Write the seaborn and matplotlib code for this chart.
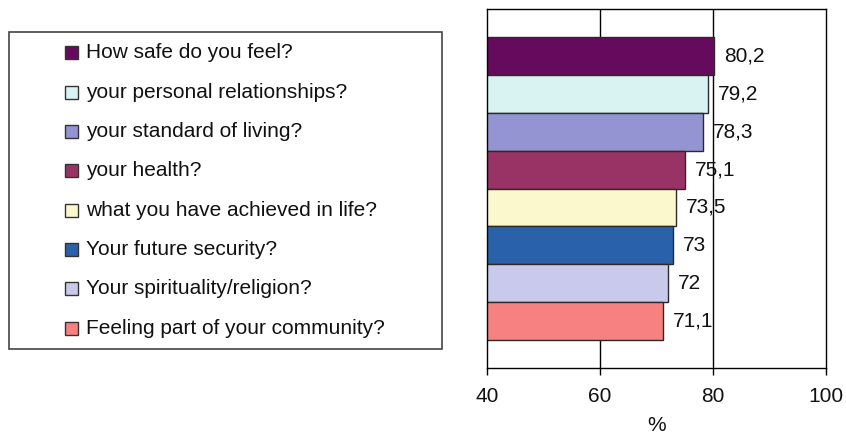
import matplotlib
matplotlib.use("Agg")
import matplotlib.pyplot as plt
from matplotlib.patches import Rectangle
import seaborn as sns
import pandas as pd

categories = [
    "How safe do you feel?",
    "your personal relationships?",
    "your standard of living?",
    "your health?",
    "what you have achieved in life?",
    "Your future security?",
    "Your spirituality/religion?",
    "Feeling part of your community?",
]
values = [80.2, 79.2, 78.3, 75.1, 73.5, 73.0, 72.0, 71.1]
colors = ["#660A5E", "#D9F2F2", "#9494D2", "#993366",
          "#FAF8CC", "#2962AB", "#C9C9EC", "#F78181"]
x_ticks = [40, 60, 80, 100]

sns.set_theme(style="white")
plt.rcParams["font.family"] = ["Liberation Sans", "DejaVu Sans"]
plt.rcParams["text.color"] = "#111111"
plt.rcParams["xtick.color"] = "black"
plt.rcParams["xtick.labelcolor"] = "#111111"
plt.rcParams["axes.labelcolor"] = "#111111"

W, H = 846, 436
fig = plt.figure(figsize=(W / 100, H / 100), dpi=100)
ax = fig.add_axes([487 / W, 1 - 368 / H, (826 - 487) / W, (368 - 9) / H])

df = pd.DataFrame({"q": categories, "pct": values})
sns.barplot(data=df, x="pct", y="q", hue="q", palette=colors, legend=False,
            saturation=1, width=1.0, edgecolor="#2a2a2a", linewidth=1.0,
            ax=ax, zorder=2)

ax.set_xlim(40, 100)
ax.set_ylim(len(categories) - 0.5 + 0.74, -0.5 - 0.74)
ax.set_xticks(x_ticks)
ax.set_xticklabels([str(t) for t in x_ticks], fontsize=15)
ax.set_yticks([])
ax.set_ylabel("")
ax.set_xlabel("%", fontsize=15, labelpad=7)
ax.tick_params(axis="x", direction="out", length=5, width=1, color="black",
               bottom=True, pad=9)
for s in ax.spines.values():
    s.set_color("black")
    s.set_linewidth(1.0)
for g in (60, 80):
    ax.axvline(g, color="black", linewidth=1.0, zorder=1)

def fmt(v):
    s = f"{v:.1f}"
    if s.endswith(".0"):
        s = s[:-2]
    return s.replace(".", ",")

for cont in ax.containers:
    ax.bar_label(cont, labels=[fmt(v) for v in cont.datavalues],
                 padding=7, fontsize=15, color="#111111", zorder=3)

# Legend panel on the left
box_l, box_t, box_r, box_b = 9, 32, 442, 349
fig.add_artist(Rectangle((box_l / W, 1 - box_b / H), (box_r - box_l) / W,
                         (box_b - box_t) / H, transform=fig.transFigure,
                         facecolor="white", edgecolor="#444444", linewidth=1.2))
y0, dy = 53, 39.3
sq = 13
for i, (lab, c) in enumerate(zip(categories, colors)):
    yc = y0 + i * dy
    fig.add_artist(Rectangle((65 / W, 1 - (yc + sq / 2) / H), sq / W, sq / H,
                             transform=fig.transFigure, facecolor=c,
                             edgecolor="#333333", linewidth=1.0))
    fig.text(86 / W, 1 - yc / H, lab, fontsize=15, va="center", ha="left",
             color="#111111")

fig.savefig("out.png", dpi=100)
